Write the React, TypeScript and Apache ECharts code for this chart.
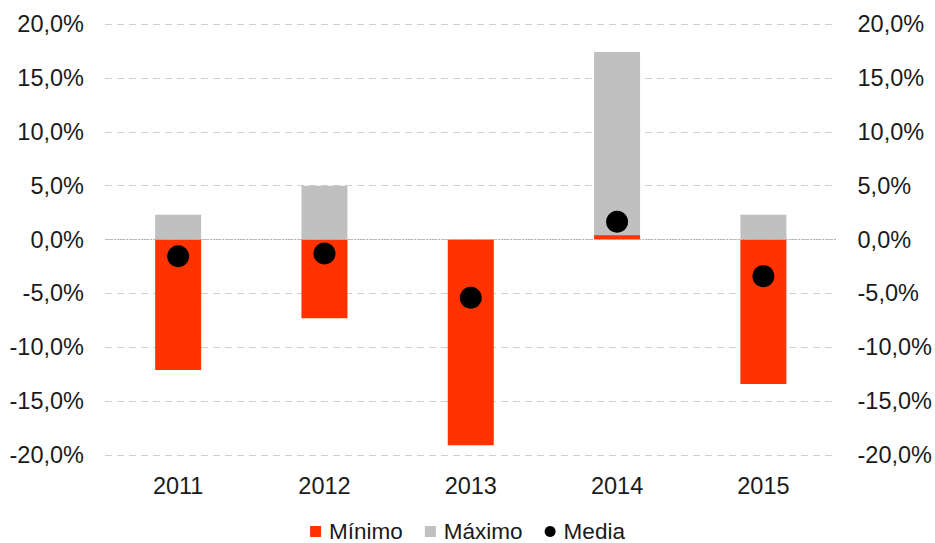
import React, { useEffect, useRef } from "react";
import * as echarts from "echarts";

const categories = ["2011", "2012", "2013", "2014", "2015"];
const minimo = [-12.1, -7.3, -19.1, 0.4, -13.4];
const maximo = [2.3, 5.0, 0, 17.4, 2.3];
const media = [-1.55, -1.3, -5.4, 1.65, -3.4];
const yMin = -20;
const yMax = 20;
const yStep = 5;

const fmt = (v: number) => v.toFixed(1).replace(".", ",") + "%";

export default function App() {
  const ref = useRef<HTMLDivElement>(null);
  useEffect(() => {
    if (!ref.current) return;
    const chart = echarts.init(ref.current, null, { renderer: "svg" });
    const font = "'Liberation Sans', Arial, sans-serif";
    const yAxisCommon = {
      type: "value" as const,
      min: yMin,
      max: yMax,
      interval: yStep,
      axisLine: { show: false },
      axisTick: { show: false },
      axisLabel: {
        formatter: (v: number) => fmt(v),
        color: "#1a1a1a",
        fontSize: 23.5,
        fontFamily: font,
        margin: 21,
      },
    };
    chart.setOption({
      animation: false,
      textStyle: { fontFamily: font },
      grid: { left: 105, right: 97.5, top: 24, bottom: 88, containLabel: false },
      legend: {
        left: "center",
        top: 520,
        padding: 0,
        itemWidth: 11,
        itemHeight: 11,
        itemGap: 22,
        textStyle: {
          fontSize: 22.5,
          lineHeight: 22,
          color: "#1a1a1a",
          fontFamily: font,
          padding: [0, 0, 0, 3],
        },
        data: [
          { name: "Mínimo", icon: "rect" },
          { name: "Máximo", icon: "rect" },
          { name: "Media", icon: "circle" },
        ],
      },
      xAxis: {
        type: "category",
        data: categories,
        axisLine: { show: false, onZero: false },
        axisTick: { show: false },
        axisLabel: { color: "#1a1a1a", fontSize: 23.5, fontFamily: font, margin: 19 },
      },
      yAxis: [
        {
          ...yAxisCommon,
          position: "left",
          splitLine: { show: true, lineStyle: { color: "#d0d0d0", type: [7, 5], width: 1 } },
        },
        {
          ...yAxisCommon,
          position: "right",
          splitLine: { show: false },
        },
      ],
      series: [
        {
          name: "Máximo",
          type: "bar",
          data: maximo,
          barWidth: 46,
          barGap: "-100%",
          itemStyle: { color: "#c0c0c0" },
          markLine: {
            silent: true,
            symbol: "none",
            label: { show: false },
            lineStyle: { color: "#b5b5b5", type: [2, 1], width: 1 },
            data: [{ yAxis: 0 }],
          },
        },
        {
          name: "Mínimo",
          type: "bar",
          data: minimo,
          barWidth: 46,
          barGap: "-100%",
          itemStyle: { color: "#ff3300" },
        },
        {
          name: "Media",
          type: "scatter",
          data: media,
          symbolSize: 22,
          itemStyle: { color: "#000000", opacity: 1 },
          z: 5,
        },
      ],
    });
    return () => chart.dispose();
  }, []);
  return (
    <div
      ref={ref}
      style={{ position: "fixed", left: 0, top: 0, width: 935, height: 543, background: "#fff" }}
    />
  );
}
